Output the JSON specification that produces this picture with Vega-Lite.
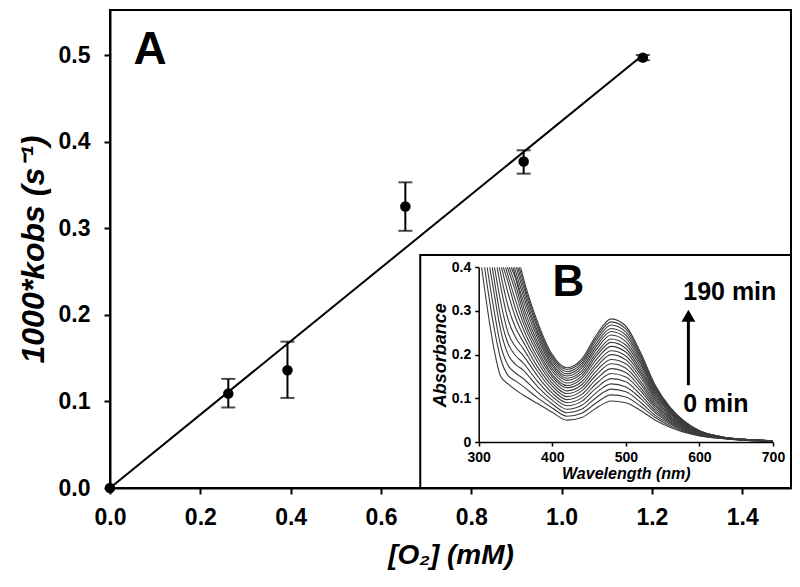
{
"$schema": "https://vega.github.io/schema/vega-lite/v6.json",
"width": 681, "height": 478,
"autosize": {"type": "none"},
"padding": {"left": 110, "top": 10, "right": 9, "bottom": 99},
"background": "white",
"config": {"view": {"stroke": "black", "strokeWidth": 2}, "font": "Liberation Sans", "axis": {"grid": false, "labelFlush": false, "labelOverlap": false, "labelColor": "black", "titleColor": "black", "domainColor": "black", "tickColor": "black", "labelFontWeight": "bold", "titleFontWeight": "bold"}},
"datasets": {
"pts": [{"o2":0,"k":0},{"o2":0.262,"k":0.109},{"o2":0.393,"k":0.136},{"o2":0.654,"k":0.325},{"o2":0.916,"k":0.377},{"o2":1.18,"k":0.497}],
"err": [{"o2":0.262,"lo":0.093,"hi":0.126},{"o2":0.393,"lo":0.104,"hi":0.169},{"o2":0.654,"lo":0.297,"hi":0.353},{"o2":0.916,"lo":0.363,"hi":0.390},{"o2":1.18,"lo":0.494,"hi":0.500}],
"fit": [{"o2":0,"k":0},{"o2":1.18,"k":0.5}],
"box": [{"x1":0.687,"x2":1.508,"y1":0,"y2":0.269}],
"spec": [
{"t":0,"nm":304,"a":0.4},{"t":0,"nm":315,"a":0.27},{"t":0,"nm":320,"a":0.22},{"t":0,"nm":330,"a":0.15},{"t":0,"nm":340,"a":0.133},{"t":0,"nm":360,"a":0.108},{"t":0,"nm":380,"a":0.088},{"t":0,"nm":400,"a":0.068},{"t":0,"nm":420,"a":0.05},{"t":0,"nm":440,"a":0.056},{"t":0,"nm":460,"a":0.078},{"t":0,"nm":480,"a":0.094},{"t":0,"nm":500,"a":0.09},{"t":0,"nm":520,"a":0.072},{"t":0,"nm":540,"a":0.05},{"t":0,"nm":560,"a":0.034},{"t":0,"nm":580,"a":0.022},{"t":0,"nm":600,"a":0.014},{"t":0,"nm":630,"a":0.008},{"t":0,"nm":660,"a":0.004},{"t":0,"nm":700,"a":0.002},
{"t":10,"nm":308,"a":0.4},{"t":10,"nm":320,"a":0.27},{"t":10,"nm":330,"a":0.19},{"t":10,"nm":340,"a":0.152},{"t":10,"nm":350,"a":0.14},{"t":10,"nm":360,"a":0.128},{"t":10,"nm":380,"a":0.101},{"t":10,"nm":400,"a":0.078},{"t":10,"nm":420,"a":0.059},{"t":10,"nm":440,"a":0.066},{"t":10,"nm":460,"a":0.09},{"t":10,"nm":480,"a":0.108},{"t":10,"nm":500,"a":0.103},{"t":10,"nm":520,"a":0.082},{"t":10,"nm":540,"a":0.056},{"t":10,"nm":560,"a":0.037},{"t":10,"nm":580,"a":0.024},{"t":10,"nm":600,"a":0.015},{"t":10,"nm":630,"a":0.008},{"t":10,"nm":660,"a":0.004},{"t":10,"nm":700,"a":0.002},
{"t":20,"nm":311.5,"a":0.4},{"t":20,"nm":320,"a":0.31},{"t":20,"nm":330,"a":0.22},{"t":20,"nm":340,"a":0.175},{"t":20,"nm":350,"a":0.158},{"t":20,"nm":360,"a":0.146},{"t":20,"nm":380,"a":0.114},{"t":20,"nm":400,"a":0.087},{"t":20,"nm":420,"a":0.067},{"t":20,"nm":440,"a":0.075},{"t":20,"nm":460,"a":0.102},{"t":20,"nm":480,"a":0.121},{"t":20,"nm":500,"a":0.115},{"t":20,"nm":520,"a":0.091},{"t":20,"nm":540,"a":0.061},{"t":20,"nm":560,"a":0.041},{"t":20,"nm":580,"a":0.026},{"t":20,"nm":600,"a":0.016},{"t":20,"nm":630,"a":0.009},{"t":20,"nm":660,"a":0.004},{"t":20,"nm":700,"a":0.002},
{"t":30,"nm":315,"a":0.4},{"t":30,"nm":320,"a":0.35},{"t":30,"nm":330,"a":0.255},{"t":30,"nm":340,"a":0.2},{"t":30,"nm":350,"a":0.178},{"t":30,"nm":360,"a":0.165},{"t":30,"nm":380,"a":0.127},{"t":30,"nm":400,"a":0.096},{"t":30,"nm":420,"a":0.075},{"t":30,"nm":440,"a":0.084},{"t":30,"nm":460,"a":0.113},{"t":30,"nm":480,"a":0.133},{"t":30,"nm":500,"a":0.126},{"t":30,"nm":520,"a":0.1},{"t":30,"nm":540,"a":0.067},{"t":30,"nm":560,"a":0.044},{"t":30,"nm":580,"a":0.027},{"t":30,"nm":600,"a":0.016},{"t":30,"nm":630,"a":0.009},{"t":30,"nm":660,"a":0.004},{"t":30,"nm":700,"a":0.002},
{"t":40,"nm":318.5,"a":0.4},{"t":40,"nm":330,"a":0.285},{"t":40,"nm":340,"a":0.225},{"t":40,"nm":350,"a":0.198},{"t":40,"nm":360,"a":0.182},{"t":40,"nm":380,"a":0.139},{"t":40,"nm":400,"a":0.104},{"t":40,"nm":420,"a":0.083},{"t":40,"nm":440,"a":0.093},{"t":40,"nm":460,"a":0.124},{"t":40,"nm":480,"a":0.145},{"t":40,"nm":500,"a":0.138},{"t":40,"nm":520,"a":0.108},{"t":40,"nm":540,"a":0.072},{"t":40,"nm":560,"a":0.047},{"t":40,"nm":580,"a":0.029},{"t":40,"nm":600,"a":0.017},{"t":40,"nm":630,"a":0.009},{"t":40,"nm":660,"a":0.005},{"t":40,"nm":700,"a":0.002},
{"t":50,"nm":321.5,"a":0.4},{"t":50,"nm":330,"a":0.32},{"t":50,"nm":340,"a":0.25},{"t":50,"nm":350,"a":0.218},{"t":50,"nm":360,"a":0.199},{"t":50,"nm":380,"a":0.151},{"t":50,"nm":400,"a":0.112},{"t":50,"nm":420,"a":0.09},{"t":50,"nm":440,"a":0.101},{"t":50,"nm":460,"a":0.134},{"t":50,"nm":480,"a":0.157},{"t":50,"nm":500,"a":0.149},{"t":50,"nm":520,"a":0.117},{"t":50,"nm":540,"a":0.077},{"t":50,"nm":560,"a":0.049},{"t":50,"nm":580,"a":0.03},{"t":50,"nm":600,"a":0.018},{"t":50,"nm":630,"a":0.009},{"t":50,"nm":660,"a":0.005},{"t":50,"nm":700,"a":0.002},
{"t":60,"nm":325,"a":0.4},{"t":60,"nm":330,"a":0.355},{"t":60,"nm":340,"a":0.28},{"t":60,"nm":350,"a":0.24},{"t":60,"nm":360,"a":0.215},{"t":60,"nm":380,"a":0.162},{"t":60,"nm":400,"a":0.12},{"t":60,"nm":420,"a":0.097},{"t":60,"nm":440,"a":0.109},{"t":60,"nm":460,"a":0.144},{"t":60,"nm":480,"a":0.168},{"t":60,"nm":500,"a":0.159},{"t":60,"nm":520,"a":0.124},{"t":60,"nm":540,"a":0.082},{"t":60,"nm":560,"a":0.052},{"t":60,"nm":580,"a":0.032},{"t":60,"nm":600,"a":0.019},{"t":60,"nm":630,"a":0.01},{"t":60,"nm":660,"a":0.005},{"t":60,"nm":700,"a":0.002},
{"t":70,"nm":328,"a":0.4},{"t":70,"nm":340,"a":0.31},{"t":70,"nm":350,"a":0.262},{"t":70,"nm":360,"a":0.231},{"t":70,"nm":380,"a":0.172},{"t":70,"nm":400,"a":0.128},{"t":70,"nm":420,"a":0.104},{"t":70,"nm":440,"a":0.117},{"t":70,"nm":460,"a":0.154},{"t":70,"nm":480,"a":0.179},{"t":70,"nm":500,"a":0.169},{"t":70,"nm":520,"a":0.132},{"t":70,"nm":540,"a":0.086},{"t":70,"nm":560,"a":0.055},{"t":70,"nm":580,"a":0.033},{"t":70,"nm":600,"a":0.019},{"t":70,"nm":630,"a":0.01},{"t":70,"nm":660,"a":0.005},{"t":70,"nm":700,"a":0.002},
{"t":80,"nm":331,"a":0.4},{"t":80,"nm":340,"a":0.34},{"t":80,"nm":350,"a":0.285},{"t":80,"nm":360,"a":0.246},{"t":80,"nm":380,"a":0.183},{"t":80,"nm":400,"a":0.135},{"t":80,"nm":420,"a":0.111},{"t":80,"nm":440,"a":0.124},{"t":80,"nm":460,"a":0.163},{"t":80,"nm":480,"a":0.189},{"t":80,"nm":500,"a":0.179},{"t":80,"nm":520,"a":0.139},{"t":80,"nm":540,"a":0.091},{"t":80,"nm":560,"a":0.057},{"t":80,"nm":580,"a":0.035},{"t":80,"nm":600,"a":0.02},{"t":80,"nm":630,"a":0.01},{"t":80,"nm":660,"a":0.005},{"t":80,"nm":700,"a":0.003},
{"t":90,"nm":333.5,"a":0.4},{"t":90,"nm":340,"a":0.365},{"t":90,"nm":350,"a":0.305},{"t":90,"nm":360,"a":0.261},{"t":90,"nm":380,"a":0.193},{"t":90,"nm":400,"a":0.142},{"t":90,"nm":420,"a":0.117},{"t":90,"nm":440,"a":0.131},{"t":90,"nm":460,"a":0.172},{"t":90,"nm":480,"a":0.2},{"t":90,"nm":500,"a":0.188},{"t":90,"nm":520,"a":0.147},{"t":90,"nm":540,"a":0.095},{"t":90,"nm":560,"a":0.06},{"t":90,"nm":580,"a":0.036},{"t":90,"nm":600,"a":0.021},{"t":90,"nm":630,"a":0.01},{"t":90,"nm":660,"a":0.005},{"t":90,"nm":700,"a":0.003},
{"t":100,"nm":336.5,"a":0.4},{"t":100,"nm":350,"a":0.325},{"t":100,"nm":360,"a":0.275},{"t":100,"nm":380,"a":0.203},{"t":100,"nm":400,"a":0.149},{"t":100,"nm":420,"a":0.124},{"t":100,"nm":440,"a":0.138},{"t":100,"nm":460,"a":0.18},{"t":100,"nm":480,"a":0.209},{"t":100,"nm":500,"a":0.197},{"t":100,"nm":520,"a":0.154},{"t":100,"nm":540,"a":0.099},{"t":100,"nm":560,"a":0.062},{"t":100,"nm":580,"a":0.037},{"t":100,"nm":600,"a":0.021},{"t":100,"nm":630,"a":0.01},{"t":100,"nm":660,"a":0.005},{"t":100,"nm":700,"a":0.003},
{"t":110,"nm":339,"a":0.4},{"t":110,"nm":350,"a":0.345},{"t":110,"nm":360,"a":0.288},{"t":110,"nm":380,"a":0.212},{"t":110,"nm":400,"a":0.155},{"t":110,"nm":420,"a":0.129},{"t":110,"nm":440,"a":0.145},{"t":110,"nm":460,"a":0.189},{"t":110,"nm":480,"a":0.219},{"t":110,"nm":500,"a":0.206},{"t":110,"nm":520,"a":0.16},{"t":110,"nm":540,"a":0.103},{"t":110,"nm":560,"a":0.065},{"t":110,"nm":580,"a":0.039},{"t":110,"nm":600,"a":0.022},{"t":110,"nm":630,"a":0.011},{"t":110,"nm":660,"a":0.005},{"t":110,"nm":700,"a":0.003},
{"t":120,"nm":341.5,"a":0.4},{"t":120,"nm":350,"a":0.36},{"t":120,"nm":360,"a":0.301},{"t":120,"nm":380,"a":0.221},{"t":120,"nm":400,"a":0.162},{"t":120,"nm":420,"a":0.135},{"t":120,"nm":440,"a":0.151},{"t":120,"nm":460,"a":0.197},{"t":120,"nm":480,"a":0.228},{"t":120,"nm":500,"a":0.214},{"t":120,"nm":520,"a":0.166},{"t":120,"nm":540,"a":0.107},{"t":120,"nm":560,"a":0.067},{"t":120,"nm":580,"a":0.04},{"t":120,"nm":600,"a":0.023},{"t":120,"nm":630,"a":0.011},{"t":120,"nm":660,"a":0.005},{"t":120,"nm":700,"a":0.003},
{"t":130,"nm":344,"a":0.4},{"t":130,"nm":350,"a":0.375},{"t":130,"nm":360,"a":0.314},{"t":130,"nm":380,"a":0.229},{"t":130,"nm":400,"a":0.168},{"t":130,"nm":420,"a":0.141},{"t":130,"nm":440,"a":0.157},{"t":130,"nm":460,"a":0.204},{"t":130,"nm":480,"a":0.236},{"t":130,"nm":500,"a":0.222},{"t":130,"nm":520,"a":0.173},{"t":130,"nm":540,"a":0.111},{"t":130,"nm":560,"a":0.069},{"t":130,"nm":580,"a":0.041},{"t":130,"nm":600,"a":0.023},{"t":130,"nm":630,"a":0.011},{"t":130,"nm":660,"a":0.006},{"t":130,"nm":700,"a":0.003},
{"t":140,"nm":346.5,"a":0.4},{"t":140,"nm":360,"a":0.326},{"t":140,"nm":380,"a":0.238},{"t":140,"nm":400,"a":0.174},{"t":140,"nm":420,"a":0.146},{"t":140,"nm":440,"a":0.163},{"t":140,"nm":460,"a":0.212},{"t":140,"nm":480,"a":0.245},{"t":140,"nm":500,"a":0.23},{"t":140,"nm":520,"a":0.179},{"t":140,"nm":540,"a":0.114},{"t":140,"nm":560,"a":0.071},{"t":140,"nm":580,"a":0.042},{"t":140,"nm":600,"a":0.024},{"t":140,"nm":630,"a":0.011},{"t":140,"nm":660,"a":0.006},{"t":140,"nm":700,"a":0.003},
{"t":150,"nm":348.5,"a":0.4},{"t":150,"nm":360,"a":0.338},{"t":150,"nm":380,"a":0.246},{"t":150,"nm":400,"a":0.179},{"t":150,"nm":420,"a":0.151},{"t":150,"nm":440,"a":0.169},{"t":150,"nm":460,"a":0.219},{"t":150,"nm":480,"a":0.253},{"t":150,"nm":500,"a":0.238},{"t":150,"nm":520,"a":0.184},{"t":150,"nm":540,"a":0.118},{"t":150,"nm":560,"a":0.073},{"t":150,"nm":580,"a":0.043},{"t":150,"nm":600,"a":0.024},{"t":150,"nm":630,"a":0.011},{"t":150,"nm":660,"a":0.006},{"t":150,"nm":700,"a":0.003},
{"t":160,"nm":351,"a":0.4},{"t":160,"nm":360,"a":0.349},{"t":160,"nm":380,"a":0.253},{"t":160,"nm":400,"a":0.185},{"t":160,"nm":420,"a":0.156},{"t":160,"nm":440,"a":0.175},{"t":160,"nm":460,"a":0.226},{"t":160,"nm":480,"a":0.26},{"t":160,"nm":500,"a":0.245},{"t":160,"nm":520,"a":0.19},{"t":160,"nm":540,"a":0.121},{"t":160,"nm":560,"a":0.075},{"t":160,"nm":580,"a":0.044},{"t":160,"nm":600,"a":0.025},{"t":160,"nm":630,"a":0.012},{"t":160,"nm":660,"a":0.006},{"t":160,"nm":700,"a":0.003},
{"t":170,"nm":353,"a":0.4},{"t":170,"nm":360,"a":0.36},{"t":170,"nm":380,"a":0.261},{"t":170,"nm":400,"a":0.19},{"t":170,"nm":420,"a":0.161},{"t":170,"nm":440,"a":0.18},{"t":170,"nm":460,"a":0.233},{"t":170,"nm":480,"a":0.268},{"t":170,"nm":500,"a":0.252},{"t":170,"nm":520,"a":0.195},{"t":170,"nm":540,"a":0.124},{"t":170,"nm":560,"a":0.077},{"t":170,"nm":580,"a":0.045},{"t":170,"nm":600,"a":0.025},{"t":170,"nm":630,"a":0.012},{"t":170,"nm":660,"a":0.006},{"t":170,"nm":700,"a":0.003},
{"t":180,"nm":355,"a":0.4},{"t":180,"nm":360,"a":0.37},{"t":180,"nm":380,"a":0.268},{"t":180,"nm":400,"a":0.195},{"t":180,"nm":420,"a":0.166},{"t":180,"nm":440,"a":0.185},{"t":180,"nm":460,"a":0.239},{"t":180,"nm":480,"a":0.275},{"t":180,"nm":500,"a":0.259},{"t":180,"nm":520,"a":0.2},{"t":180,"nm":540,"a":0.127},{"t":180,"nm":560,"a":0.078},{"t":180,"nm":580,"a":0.046},{"t":180,"nm":600,"a":0.026},{"t":180,"nm":630,"a":0.012},{"t":180,"nm":660,"a":0.006},{"t":180,"nm":700,"a":0.003},
{"t":190,"nm":357,"a":0.4},{"t":190,"nm":360,"a":0.38},{"t":190,"nm":380,"a":0.275},{"t":190,"nm":400,"a":0.2},{"t":190,"nm":420,"a":0.17},{"t":190,"nm":440,"a":0.19},{"t":190,"nm":460,"a":0.245},{"t":190,"nm":480,"a":0.282},{"t":190,"nm":500,"a":0.265},{"t":190,"nm":520,"a":0.205},{"t":190,"nm":540,"a":0.13},{"t":190,"nm":560,"a":0.08},{"t":190,"nm":580,"a":0.047},{"t":190,"nm":600,"a":0.026},{"t":190,"nm":630,"a":0.012},{"t":190,"nm":660,"a":0.006},{"t":190,"nm":700,"a":0.003}
],
"arrow": [{"nm":585,"lo":0.13,"hi":0.285,"tip":0.289}],
"lblB": [{"nm":422,"a":0.365,"txt":"B"}],
"lblMin": [{"nm":578,"a":0.343,"txt":"190 min"},{"nm":578,"a":0.088,"txt":"0 min"}],
"mlabels": [{"o2":0.089,"k":0.506,"txt":"A"}]
},
"layer": [
 {
  "encoding": {
   "x": {"field": "o2", "type": "quantitative", "scale": {"domain": [0, 1.508], "nice": false, "zero": false},
     "axis": {"values": [0,0.2,0.4,0.6,0.8,1.0,1.2,1.4], "format": ".1f", "labelFontSize": 23, "domainWidth": 2, "tickWidth": 2, "tickSize": 6, "labelPadding": 12, "title": "[O₂] (mM)", "titleFontSize": 28, "titleFontStyle": "italic", "titlePadding": 12}},
   "y": {"field": "k", "type": "quantitative", "scale": {"domain": [0, 0.552], "nice": false, "zero": false},
     "axis": {"values": [0,0.1,0.2,0.3,0.4,0.5], "format": ".1f", "labelFontSize": 23, "domainWidth": 2, "tickWidth": 2, "tickSize": 6, "labelPadding": 14, "title": "1000*kobs (s⁻¹)", "titleFontSize": 32, "titleFontStyle": "italic", "titlePadding": 8}}
  },
  "layer": [
   {"data": {"name": "fit"}, "mark": {"type": "line", "color": "black", "strokeWidth": 2}},
   {"data": {"name": "err"}, "mark": {"type": "rule", "color": "black", "strokeWidth": 2}, "encoding": {"y": {"field": "lo", "type": "quantitative"}, "y2": {"field": "hi"}}},
   {"data": {"name": "err"}, "mark": {"type": "tick", "orient": "horizontal", "color": "black", "size": 14, "thickness": 2}, "encoding": {"y": {"field": "lo", "type": "quantitative"}}},
   {"data": {"name": "err"}, "mark": {"type": "tick", "orient": "horizontal", "color": "black", "size": 14, "thickness": 2}, "encoding": {"y": {"field": "hi", "type": "quantitative"}}},
   {"data": {"name": "pts"}, "mark": {"type": "point", "filled": true, "color": "black", "opacity": 1, "size": 110}},
   {"data": {"name": "mlabels"}, "mark": {"type": "text", "fontSize": 46, "fontWeight": "bold", "align": "center", "baseline": "middle", "color": "black"}, "encoding": {"text": {"field": "txt"}}},
   {"data": {"name": "box"}, "mark": {"type": "rect", "fill": "white", "stroke": "black", "strokeWidth": 2}, "encoding": {"x": {"field": "x1", "type": "quantitative"}, "x2": {"field": "x2"}, "y": {"field": "y1", "type": "quantitative"}, "y2": {"field": "y2"}}}
  ]
 },
 {
  "encoding": {
   "x": {"field": "nm", "type": "quantitative", "scale": {"domain": [300, 700], "range": [368.7, 663], "nice": false, "zero": false},
     "axis": {"orient": "bottom", "offset": -46, "zindex": 1, "values": [300,400,500,600,700], "format": "d", "labelFontSize": 14, "domainWidth": 1.5, "tickWidth": 1.5, "tickSize": 4, "labelPadding": 4, "title": "Wavelength (nm)", "titleFontSize": 16, "titleFontStyle": "italic", "titlePadding": 1}},
   "y": {"field": "a", "type": "quantitative", "scale": {"domain": [0, 0.4], "range": [432, 257.3], "nice": false, "zero": false},
     "axis": {"orient": "left", "offset": -368.7, "zindex": 1, "values": [0,0.1,0.2,0.3,0.4], "labelExpr": "datum.value == 0 ? '0' : format(datum.value, '.1f')", "labelFontSize": 14, "domainWidth": 1.5, "tickWidth": 1.5, "tickSize": 4, "labelPadding": 4, "title": "Absorbance", "titleFontSize": 18, "titleFontStyle": "italic", "titlePadding": 2}}
  },
  "layer": [
   {"data": {"name": "spec"}, "mark": {"type": "line", "color": "#3c3c3c", "strokeWidth": 1.1, "interpolate": "monotone"}, "encoding": {"detail": {"field": "t", "type": "nominal"}}},
   {"data": {"name": "arrow"}, "mark": {"type": "rule", "color": "black", "strokeWidth": 3}, "encoding": {"y": {"field": "lo", "type": "quantitative"}, "y2": {"field": "hi"}}},
   {"data": {"name": "arrow"}, "mark": {"type": "point", "shape": "M0,-1L1.15,1L-1.15,1Z", "filled": true, "color": "black", "opacity": 1, "size": 144}, "encoding": {"y": {"field": "tip", "type": "quantitative"}}},
   {"data": {"name": "lblB"}, "mark": {"type": "text", "fontWeight": "bold", "fontSize": 44, "align": "center", "baseline": "middle", "color": "black"}, "encoding": {"text": {"field": "txt"}}},
   {"data": {"name": "lblMin"}, "mark": {"type": "text", "fontWeight": "bold", "fontSize": 25, "align": "left", "baseline": "middle", "color": "black"}, "encoding": {"text": {"field": "txt"}}}
  ]
 }
],
"resolve": {"scale": {"x": "independent", "y": "independent"}, "axis": {"x": "independent", "y": "independent"}}
}
